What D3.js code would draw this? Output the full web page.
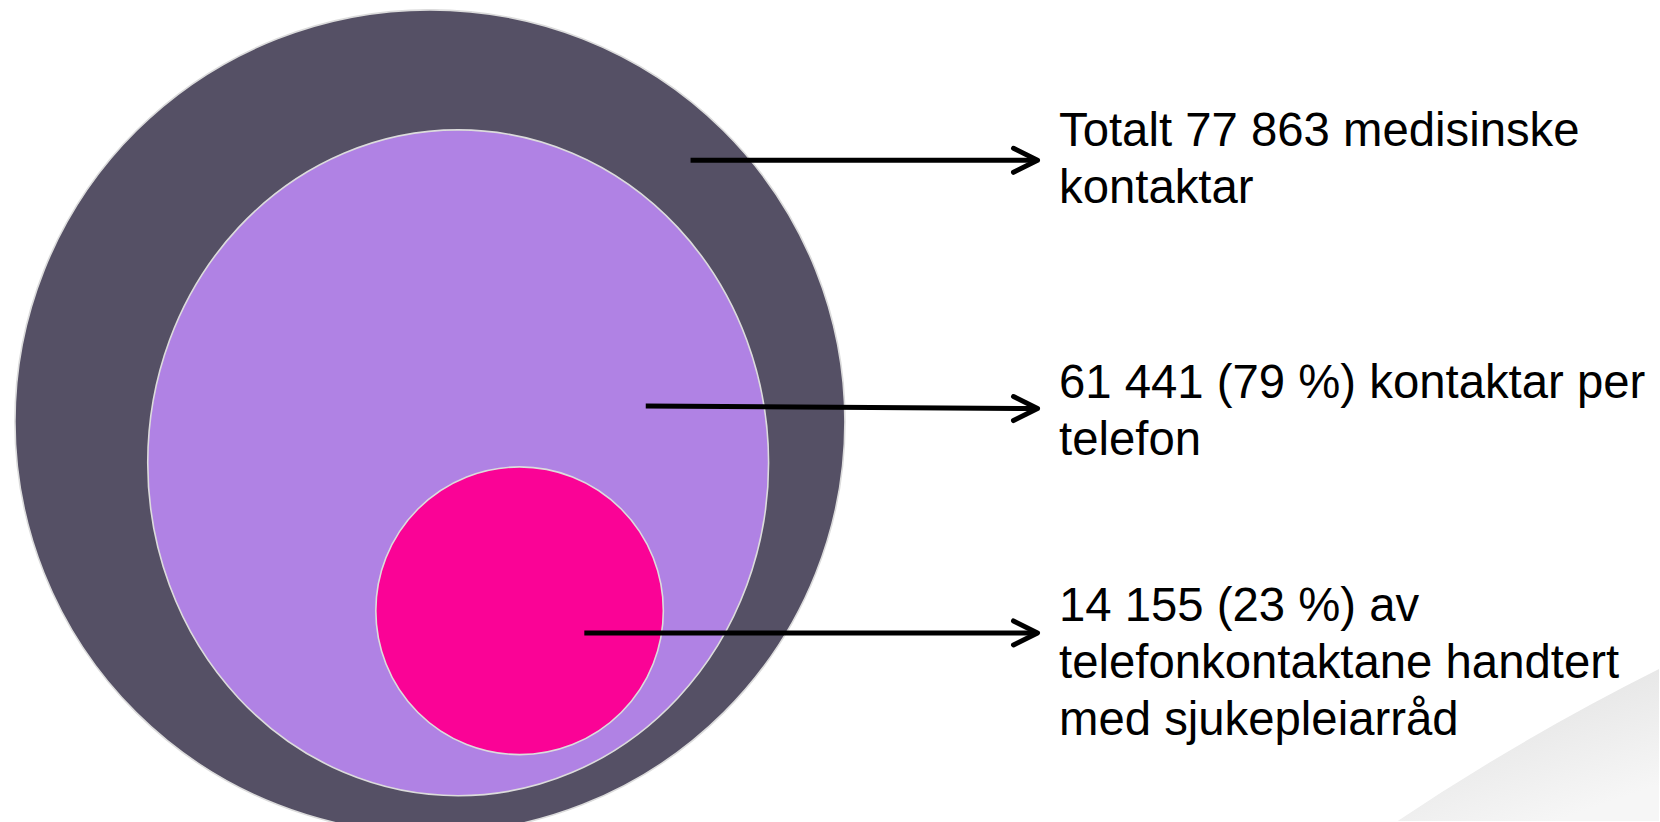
<!DOCTYPE html>
<html>
<head>
<meta charset="utf-8">
<script src="https://cdn.jsdelivr.net/npm/d3@7"></script>
<style>
  body { margin: 0; background: #ffffff; }
  svg { display: block; }
</style>
</head>
<body>
<div id="venn_chart"></div>
<script>
// contact counts (outer -> inner)
const groups = ['total', 'telefon', 'sjukepleiar'];
const counts = [77863, 61441, 14155];
const fills = ['#555065', '#b082e4', '#fa0396'];

// label text, one array of lines per group
const labelLines = [
    ['Totalt 77 863 medisinske', 'kontaktar'],
    ['61 441 (79 %) kontaktar per', 'telefon'],
    ['14 155 (23 %) av', 'telefonkontaktane handtert', 'med sjukepleiarråd']
];

// layout of the nested shapes, in a 0..100 layout space
const layout = [
    {cx: 25.9, cy: 51.3, rx: 25.0, ry: 50.1, ax: 41.6, ay: 19.5, ty: 19.5},
    {cx: 27.6, cy: 56.3, rx: 18.7, ry: 40.5, ax: 38.9, ay: 49.4, ty: 49.7},
    {cx: 31.3, cy: 74.3, rx: 8.66, ry: 17.5, ax: 35.2, ay: 77.0, ty: 77.0}
];

const width = 1660, height = 822;

const svg = d3.select('#venn_chart')
    .append('svg')
    .attr('width', width)
    .attr('height', height);

// scales from layout space to pixels
const x = d3.scaleLinear().domain([0, 100]).range([0, width]);
const y = d3.scaleLinear().domain([0, 100]).range([0, height]);

// bottom right page curl
const defs = svg.append('defs');
const grad = defs.append('linearGradient')
    .attr('id', 'curl')
    .attr('x1', '0%').attr('y1', '0%')
    .attr('x2', '60%').attr('y2', '100%');
grad.append('stop').attr('offset', '0%').attr('stop-color', '#d6d6d6');
grad.append('stop').attr('offset', '45%').attr('stop-color', '#e8e8e8');
grad.append('stop').attr('offset', '100%').attr('stop-color', '#f6f6f6');

svg.append('path')
    .attr('d', `M${x(84.0)},${y(100)} Q${x(91.5)},${y(89.8)} ${x(100)},${y(81.2)} L${x(100)},${y(100)} Z`)
    .attr('fill', 'url(#curl)')
    .attr('stroke', '#ffffff')
    .attr('stroke-width', 2);

// nested shapes
svg.append('g')
    .selectAll('ellipse')
    .data(groups)
    .enter()
    .append('ellipse')
    .attr('cx', (d, i) => x(layout[i].cx))
    .attr('cy', (d, i) => y(layout[i].cy))
    .attr('rx', (d, i) => x(layout[i].rx))
    .attr('ry', (d, i) => y(layout[i].ry))
    .attr('fill', (d, i) => fills[i])
    .attr('stroke', '#dcdcdc')
    .attr('stroke-width', 1.6);

// arrows
const tipX = x(62.5);
const arrows = svg.append('g')
    .attr('stroke', '#000')
    .attr('fill', 'none')
    .attr('stroke-width', 5);

groups.forEach((g, i) => {
    const ty = y(layout[i].ty);
    arrows.append('line')
        .attr('x1', x(layout[i].ax))
        .attr('y1', y(layout[i].ay))
        .attr('x2', tipX - 3)
        .attr('y2', ty);
    arrows.append('path')
        .attr('d', `M${tipX - 24},${ty - 12} L${tipX},${ty} L${tipX - 24},${ty + 12}`)
        .attr('stroke-linecap', 'round')
        .attr('stroke-linejoin', 'round');
});

// labels
const firstBaseline = [146, 398, 621];
const lineHeight = 57;
const labels = svg.append('g')
    .attr('font-family', 'Arial, "Liberation Sans", sans-serif')
    .attr('font-size', '47.3px')
    .attr('fill', '#000');

labelLines.forEach((lines, i) => {
    labels.append('text')
        .attr('x', 1059)
        .attr('y', firstBaseline[i])
        .selectAll('tspan')
        .data(lines)
        .enter()
        .append('tspan')
        .attr('x', 1059)
        .attr('dy', (d, j) => j === 0 ? 0 : lineHeight)
        .text(d => d);
});
</script>
</body>
</html>
